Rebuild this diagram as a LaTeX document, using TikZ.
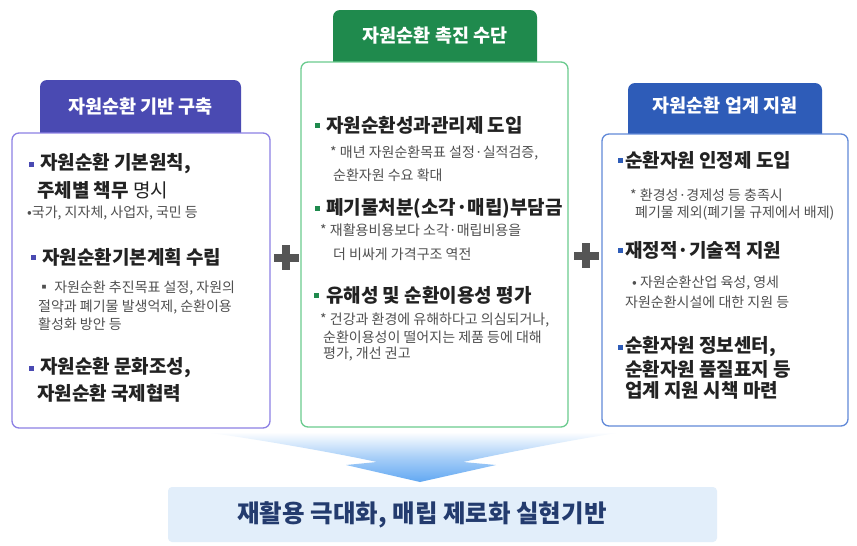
\documentclass[tikz,border=0pt]{standalone}
\usepackage{fontspec}
\setmainfont{Noto Sans CJK KR}
\definecolor{tabL}{HTML}{4A4AB2}
\definecolor{brdL}{HTML}{8C80E4}
\definecolor{tabM}{HTML}{1F8A4D}
\definecolor{brdM}{HTML}{6ACB8E}
\definecolor{tabR}{HTML}{2E5CB8}
\definecolor{brdR}{HTML}{6189D8}
\definecolor{headtxt}{HTML}{222222}
\definecolor{subtxt}{HTML}{505050}
\definecolor{plusc}{HTML}{555555}
\definecolor{bannerfill}{HTML}{E2EEFA}
\definecolor{bannertxt}{HTML}{233B6E}
\definecolor{arrowblue}{HTML}{62A8F2}
\newcommand\hdfont{\fontsize{19}{22}\selectfont\bfseries}
\newcommand\sbfont{\fontsize{14}{17}\selectfont}
\newcommand\tbfont{\fontsize{18.5}{22}\selectfont\bfseries}
\tikzset{
  head/.style={anchor=west, inner sep=0pt, font=\hdfont, text=headtxt},
  sub/.style={anchor=west, inner sep=0pt, font=\sbfont, text=subtxt},
  tabtext/.style={inner sep=0pt, font=\tbfont, text=white},
  panel/.style={fill=white, line width=1.3pt, rounded corners=7pt},
  tabshape/.style={rounded corners=7pt},
  plus/.style={fill=plusc},
}
\begin{document}
\begin{tikzpicture}[x=1pt,y=-1pt]
\useasboundingbox (0,0) rectangle (857,546);
\fill[white] (0,0) rectangle (857,546);

% ---------- tabs and panels
\fill[tabshape, tabL] (40,80) rectangle (241,150);
\draw[panel, draw=brdL] (12,133) rectangle (270,428);
\node[tabtext] (tL) at (140.5,107) {자원순환 기반 구축};

\fill[tabshape, tabM] (333,10) rectangle (537,80);
\draw[panel, draw=brdM] (301,62) rectangle (568,427);
\node[tabtext] (tM) at (435,36) {자원순환 촉진 수단};

\fill[tabshape, tabR] (628,83) rectangle (822,150);
\draw[panel, draw=brdR] (602,134) rectangle (848,426);
\node[tabtext] (tR) at (725,106) {자원순환 업계 지원};

% ---------- plus signs
\fill[plus] (282,245) rectangle (290,270);
\fill[plus] (273.5,253.5) rectangle (298.5,261.5);
\fill[plus] (582,243) rectangle (590,268);
\fill[plus] (573.5,251.5) rectangle (598.5,259.5);

% ---------- left panel
\fill[tabL] (28.5,161.5) rectangle (33.5,166.5);
\node[head] (l1a) at (40,164) {자원순환 기본원칙,};
\node[head] (l1b) at (37,190) {주체별 책무 {\mdseries 명시}};
\node[sub] (l1s) at (27,213) {•국가, 지자체, 사업자, 국민 등};
\fill[tabL] (30.5,254.5) rectangle (35.5,259.5);
\node[head] (l2) at (42,257) {자원순환기본계획 수립};
\node[sub] (l2a) at (37,288) {▪ 자원순환 추진목표 설정, 자원의};
\node[sub] (l2b) at (38,307) {절약과 폐기물 발생억제, 순환이용};
\node[sub] (l2c) at (38,324) {활성화 방안 등};
\fill[tabL] (28.5,365.5) rectangle (33.5,370.5);
\node[head] (l3a) at (40,368) {자원순환 문화조성,};
\node[head] (l3b) at (37,393) {자원순환 국제협력};

% ---------- middle panel
\fill[tabM] (314.5,122.5) rectangle (319.5,127.5);
\node[head] (m1) at (326,125) {자원순환성과관리제 도입};
\node[sub] (m1a) at (330,153) {* 매년 자원순환목표 설정·실적검증,};
\node[sub] (m1b) at (333,175) {순환자원 수요 확대};
\fill[tabM] (314.5,205.5) rectangle (319.5,210.5);
\node[head] (m2) at (326,208) {폐기물처분(소각·매립)부담금};
\node[sub] (m2a) at (320,230) {* 재활용비용보다 소각·매립비용을};
\node[sub] (m2b) at (333,254) {더 비싸게 가격구조 역전};
\fill[tabM] (313.5,292.5) rectangle (318.5,297.5);
\node[head] (m3) at (326,295) {유해성 및 순환이용성 평가};
\node[sub] (m3a) at (320,320) {* 건강과 환경에 유해하다고 의심되거나,};
\node[sub] (m3b) at (323,337) {순환이용성이 떨어지는 제품 등에 대해};
\node[sub] (m3c) at (323,354) {평가, 개선 권고};

% ---------- right panel
\fill[tabR] (617.5,157.5) rectangle (622.5,162.5);
\node[head] (r1) at (625,160) {순환자원 인정제 도입};
\node[sub] (r1a) at (630,195) {* 환경성·경제성 등 충족시};
\node[sub] (r1b) at (635,213) {폐기물 제외(폐기물 규제에서 배제)};
\fill[tabR] (617.5,247.5) rectangle (622.5,252.5);
\node[head] (r2) at (625,250) {재정적·기술적 지원};
\node[sub] (r2a) at (632,283) {• 자원순환산업 육성, 영세};
\node[sub] (r2b) at (625,302) {자원순환시설에 대한 지원 등};
\fill[tabR] (617.5,344.5) rectangle (622.5,349.5);
\node[head] (r3a) at (625,347) {순환자원 정보센터,};
\node[head] (r3b) at (625,369) {순환자원 품질표지 등};
\node[head] (r3c) at (625,390) {업계 지원 시책 마련};

% ---------- funnel arrow
\shade[top color=white, bottom color=arrowblue, middle color=arrowblue!55]
  (205,432) -- (622,432)
  .. controls (560,442) and (495,455) .. (463,462)
  -- (496,465) -- (420,482) -- (346,465) -- (377,462)
  .. controls (345,455) and (275,442) .. (205,432) -- cycle;

% ---------- banner
\fill[bannerfill, rounded corners=4pt] (168,487) rectangle (717,542);
\node[inner sep=0pt, font=\fontsize{24.5}{28}\selectfont\bfseries, text=bannertxt] (goal) at (422,515) {재활용 극대화, 매립 제로화 실현기반};
\end{tikzpicture}
\end{document}
